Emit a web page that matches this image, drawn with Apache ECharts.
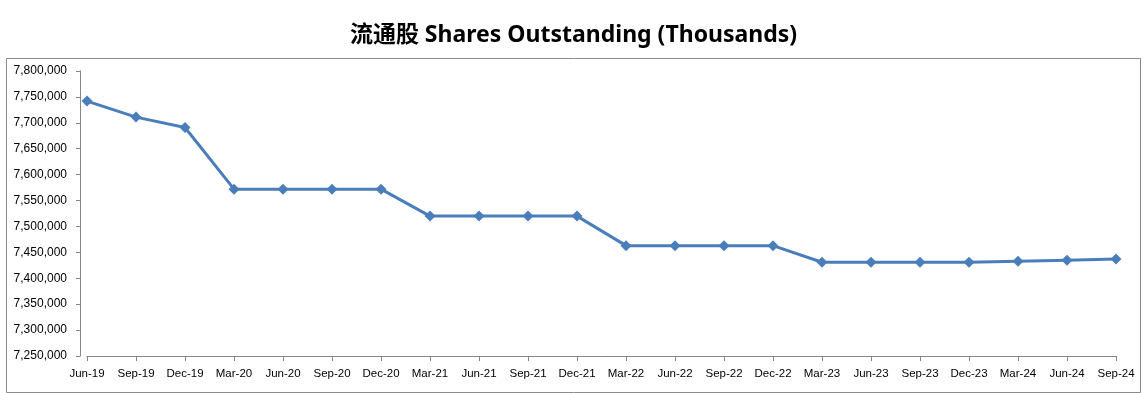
<!DOCTYPE html>
<html>
<head>
<meta charset="utf-8">
<script src="https://cdn.jsdelivr.net/npm/echarts@6/dist/echarts.min.js"></script>
<style>html,body{margin:0;padding:0;background:#fff;}#c{width:1147px;height:393px;}</style>
</head>
<body>
<div id="c"></div>
<script>
const titleText = '流通股 Shares Outstanding (Thousands)';
const categories = ['Jun-19','Sep-19','Dec-19','Mar-20','Jun-20','Sep-20','Dec-20','Mar-21','Jun-21','Sep-21','Dec-21','Mar-22','Jun-22','Sep-22','Dec-22','Mar-23','Jun-23','Sep-23','Dec-23','Mar-24','Jun-24','Sep-24'];
const shares = [7742000,7711000,7691000,7572000,7572000,7572000,7572000,7520000,7520000,7520000,7520000,7463000,7463000,7463000,7463000,7431000,7431000,7431000,7431000,7433000,7435000,7437000];
const yMin = 7250000, yMax = 7800000, yStep = 50000;

const chart = echarts.init(document.getElementById('c'));
chart.setOption({
  animation: false,
  backgroundColor: '#fff',
  title: {
    text: titleText, left: 'center', top: 19,
    textStyle: {fontFamily: '"Noto Sans", "Noto Sans CJK SC", sans-serif', fontWeight: 'bold', fontSize: 23, color: '#000'}
  },
  graphic: [{
    type: 'rect', left: 4, top: 56, z: -1,
    shape: {width: 1134, height: 334},
    style: {fill: 'none', stroke: '#8c8c8c', lineWidth: 1}
  }],
  grid: {left: 87, right: 31, top: 71, bottom: 37},
  xAxis: {
    type: 'category', data: categories, boundaryGap: false,
    axisLine: {lineStyle: {color: '#868686', width: 1}},
    axisTick: {show: true, length: 5, lineStyle: {color: '#868686'}},
    axisLabel: {interval: 0, margin: 12, color: '#000', fontSize: 11.5, fontFamily: '"Liberation Sans", Arial, sans-serif'},
    splitLine: {show: false}
  },
  yAxis: {
    type: 'value', min: yMin, max: yMax, interval: yStep, offset: 7,
    axisLine: {show: true, lineStyle: {color: '#868686', width: 1}},
    axisTick: {show: true, length: 4, lineStyle: {color: '#868686'}},
    axisLabel: {margin: 13, color: '#000', fontSize: 12, fontFamily: '"Liberation Sans", Arial, sans-serif',
      formatter: v => v.toLocaleString('en-US')},
    splitLine: {show: false}
  },
  series: [{
    type: 'line', data: shares,
    symbol: 'diamond', symbolSize: 11,
    lineStyle: {color: '#4a7ebb', width: 3},
    itemStyle: {color: '#4a7ebb'}
  }]
});
</script>
</body>
</html>
